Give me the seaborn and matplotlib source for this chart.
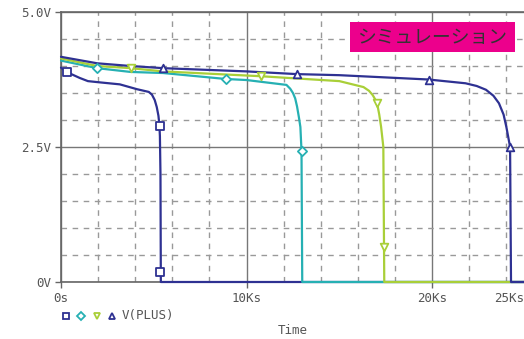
import numpy as np
import pandas as pd
import matplotlib.pyplot as plt
import matplotlib.patches as mpatches
from matplotlib.ticker import MultipleLocator
import seaborn as sns

# time in Ks, voltage in V
t_sq = [0.0, 0.3, 1.0, 1.45, 2.0, 3.17, 4.1, 4.73, 4.9, 5.05, 5.16, 5.25, 5.30, 5.33, 5.36, 5.38, 25.0]
v_sq = [3.97, 3.89, 3.78, 3.72, 3.70, 3.66, 3.57, 3.52, 3.47, 3.37, 3.24, 3.08, 2.92, 2.7, 2.0, 0.0, 0.0]

t_di = [0.0, 1.95, 3.75, 5.5, 8.87, 10.0, 12.15, 12.35, 12.5, 12.62, 12.72, 12.82, 12.9, 12.96, 13.0, 25.0]
v_di = [4.10, 3.96, 3.89, 3.87, 3.76, 3.74, 3.65, 3.58, 3.50, 3.40, 3.25, 3.05, 2.87, 2.43, 0.0, 0.0]

t_tv = [0.0, 1.95, 3.75, 5.5, 10.8, 15.0, 16.3, 16.6, 16.8, 16.95, 17.05, 17.15, 17.25, 17.37, 17.42, 25.0]
v_tv = [4.14, 4.00, 3.96, 3.90, 3.81, 3.72, 3.61, 3.54, 3.46, 3.37, 3.28, 3.10, 2.87, 2.5, 0.0, 0.0]

t_tr = [0.0, 1.95, 3.75, 5.5, 10.0, 12.7, 15.0, 19.8, 21.8, 22.4, 22.9, 23.3, 23.6, 23.85, 24.0, 24.2, 24.25, 25.0]
v_tr = [4.17, 4.05, 4.00, 3.96, 3.90, 3.85, 3.83, 3.75, 3.68, 3.63, 3.56, 3.45, 3.31, 3.10, 2.87, 2.5, 0.0, 0.0]

# marker positions
mk_sq = ([0.3, 5.32, 5.36], [3.89, 2.89, 0.18])
mk_di = ([1.95, 8.87, 12.96], [3.96, 3.76, 2.43])
mk_tv = ([3.75, 10.8, 17.05, 17.42], [3.96, 3.81, 3.31, 0.65])
mk_tr = ([5.5, 12.7, 19.85, 24.2], [3.96, 3.85, 3.75, 2.5])

navy = "#2E3192"
teal = "#26B0B3"
lime = "#A9CF38"
series = [
    (t_sq, v_sq, mk_sq, navy, "s"),
    (t_di, v_di, mk_di, teal, "D"),
    (t_tv, v_tv, mk_tv, lime, "v"),
    (t_tr, v_tr, mk_tr, navy, "^"),
]

sns.set_theme(style="white")
plt.rcParams["font.family"] = ["DejaVu Sans Mono", "Noto Sans CJK JP"]

fig = plt.figure(figsize=(5.24, 3.39), dpi=100)
ax = fig.add_axes([61 / 524, 1 - 282 / 339, 1 - 61 / 524, 270 / 339])

for t, v, mk, col, m in series:
    df = pd.DataFrame({"t": t, "v": v})
    sns.lineplot(data=df, x="t", y="v", color=col, lw=1.6, sort=False,
                 estimator=None, ax=ax, zorder=3, clip_on=False)
    ms = 22 if m == "D" else 30
    sns.scatterplot(x=mk[0], y=mk[1], marker=m, s=ms, facecolor="white",
                    edgecolor=col, linewidth=1.3, ax=ax, zorder=4)

ax.set_xlim(0, 24.95)
ax.set_ylim(0, 5.0)
ax.set_xticks([0, 10, 20])
ax.set_xticklabels(["0s", "10Ks", "20Ks"])
ax.xaxis.set_minor_locator(MultipleLocator(2))
ax.set_yticks([0, 2.5, 5.0])
ax.set_yticklabels(["0V", "2.5V", "5.0V"])
ax.yaxis.set_minor_locator(MultipleLocator(0.5))

ax.grid(which="major", color="#777777", lw=1.0, ls="-", zorder=1)
ax.grid(which="minor", color="#999999", lw=1.0, ls=(0, (4, 4)), zorder=1)
ax.tick_params(which="major", length=4, width=1, color="#666666",
               labelsize=9, labelcolor="#555555", pad=3, bottom=True, left=True)
ax.tick_params(which="minor", length=0)

for s in ["left", "bottom", "top"]:
    ax.spines[s].set_color("#666666")
    ax.spines[s].set_linewidth(1.2)
ax.spines["right"].set_visible(False)

ax.set_xlabel("")
ax.set_ylabel("")
fig.text(1.0, 1 - 298 / 339, "25Ks", ha="right", va="center",
         fontsize=9, color="#555555")
fig.text(293 / 524, 1 - 331 / 339, "Time", ha="center", va="center",
         fontsize=9, color="#555555")

# legend row under the axis
leg_y = 1 - 316 / 339
for x, col, m in [(66, navy, "s"), (81, teal, "D"), (97, lime, "v"), (112, navy, "^")]:
    fig.lines.append(plt.Line2D([x / 524], [leg_y], marker=m, ms=5 if m != "D" else 4.5,
                                mfc="white", mec=col, mew=1.3, ls="none",
                                transform=fig.transFigure))
fig.text(122 / 524, leg_y, "V(PLUS)", ha="left", va="center",
         fontsize=9, color="#555555")

# pink title box
fig.patches.append(mpatches.Rectangle((350 / 524, 1 - 52 / 339), 165 / 524, 30 / 339,
                                      facecolor="#EC008C", edgecolor="none",
                                      transform=fig.transFigure, zorder=5))
fig.text(432 / 524, 1 - 37 / 339, "シミュレーション", ha="center", va="center",
         fontsize=13.5, color="#333333", family=["Noto Sans CJK JP"], zorder=6)

fig.savefig("out.png", dpi=100)
